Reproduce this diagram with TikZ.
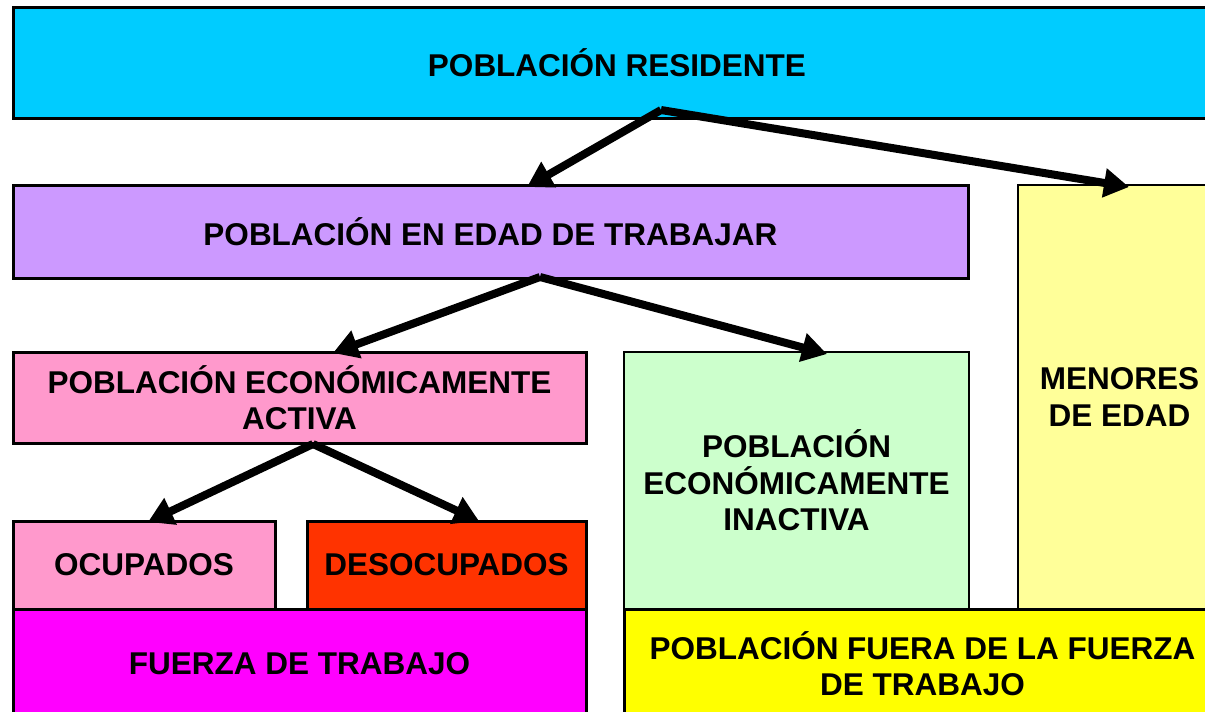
\documentclass[tikz,border=0pt]{standalone}
\usepackage{fontspec}
\setmainfont{Liberation Sans}
\usetikzlibrary{arrows.meta}
\definecolor{cblue}{HTML}{00CCFF}
\definecolor{cpurple}{HTML}{CC99FF}
\definecolor{cpink}{HTML}{FF99CC}
\definecolor{cgreen}{HTML}{CCFFCC}
\definecolor{clyellow}{HTML}{FFFF99}
\definecolor{cred}{HTML}{FF3300}
\definecolor{cmagenta}{HTML}{FF00FF}
\definecolor{cyellow}{HTML}{FFFF00}
\tikzset{
  boxnode/.style={draw=black, line width=3pt, rectangle, inner sep=0pt, outer sep=0pt, align=center,
    font=\fontsize{31.5}{36.5}\selectfont\bfseries},
  thinbox/.style={boxnode, line width=2pt},
  conn/.style={line width=8pt, -{Triangle[length=25pt,width=28pt]}}
}
\begin{document}
\begin{tikzpicture}[x=1pt,y=-1pt]
\useasboundingbox (0,0) rectangle (1205,712);
\clip (0,0) rectangle (1205,712);
\fill[white] (0,0) rectangle (1205,712);
\node[boxnode, fill=cblue, minimum width=1208pt, minimum height=111pt] (res) at (617,62.5) {POBLACIÓN RESIDENTE};
\node[boxnode, fill=cpurple, minimum width=955pt, minimum height=93pt] (pet) at (490.5,231.5) {POBLACIÓN EN EDAD DE TRABAJAR};
\node[thinbox, fill=clyellow, minimum width=203pt, minimum height=424pt] (men) at (1119.5,397) {MENORES\\DE EDAD};
\node[boxnode, fill=cpink, minimum width=573pt, minimum height=91pt] (pea) at (299.5,397.5) {POBLACIÓN ECONÓMICAMENTE\\ACTIVA};
\node[thinbox, fill=cgreen, minimum width=345pt, minimum height=257pt] (pei) at (796.5,480.5) {POBLACIÓN\\ECONÓMICAMENTE\\INACTIVA};
\node[boxnode, fill=cpink, minimum width=262pt, minimum height=88pt] (ocu) at (144,565) {OCUPADOS};
\node[boxnode, fill=cred, minimum width=279pt, minimum height=88pt] (des) at (446.5,565) {DESOCUPADOS};
\node[boxnode, fill=cmagenta, minimum width=573pt, minimum height=109pt] (ft) at (299.5,663.5) {FUERZA DE TRABAJO};
\node[boxnode, fill=cyellow, minimum width=597pt, minimum height=109pt] (fft) at (922.5,663.5) {POBLACIÓN FUERA DE LA FUERZA\\DE TRABAJO};
\coordinate (r0) at (661,110);
\coordinate (p0) at (540,277);
\coordinate (a0) at (313,444);
\draw[conn] (r0) -- ([yshift=-2pt]pet.north -| 527,0);
\draw[conn] (r0) -- ([yshift=-2pt]men.north -| 1129,0);
\draw[conn] (p0) -- ([yshift=-1pt]pea.north -| 333,0);
\draw[conn] (p0) -- ([yshift=-2pt]pei.north -| 827,0);
\draw[conn] (a0) -- ([yshift=-1pt]ocu.north -| 148,0);
\draw[conn] (a0) -- ([yshift=0pt]des.north -| 479,0);
\end{tikzpicture}
\end{document}
